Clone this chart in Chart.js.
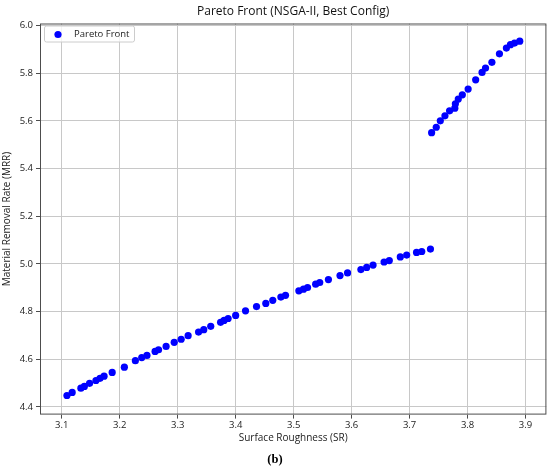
<!DOCTYPE html>
<html>
<head>
<meta charset="utf-8">
<script src="https://cdn.jsdelivr.net/npm/chart.js@4.4.1/dist/chart.umd.min.js"></script>
<style>
  html, body { margin: 0; padding: 0; background: #fff; }
  #wrap { width: 550px; height: 470px; }
</style>
</head>
<body>
<div id="wrap"><canvas id="chart" width="550" height="470"></canvas></div>
<script>
const seriesName = 'Pareto Front';

// Surface Roughness (x) and Material Removal Rate (y)
const sr = [
  3.109, 3.118, 3.133, 3.139, 3.148, 3.159, 3.166, 3.173, 3.187, 3.208,
  3.227, 3.238, 3.247, 3.261, 3.267, 3.280, 3.294, 3.306, 3.318, 3.336,
  3.345, 3.357, 3.374, 3.380, 3.387, 3.400, 3.417, 3.436, 3.452, 3.464,
  3.478, 3.486, 3.509, 3.517, 3.524, 3.538, 3.545, 3.560, 3.580, 3.593,
  3.616, 3.626, 3.637, 3.656, 3.665, 3.684, 3.695, 3.712, 3.721, 3.736,
  3.738, 3.746, 3.753, 3.761, 3.769, 3.778, 3.779, 3.784, 3.791, 3.801,
  3.814, 3.825, 3.831, 3.842, 3.855, 3.867, 3.874, 3.881, 3.890
];
const mrr = [
  4.448, 4.461, 4.479, 4.486, 4.499, 4.511, 4.520, 4.529, 4.545, 4.567,
  4.594, 4.607, 4.616, 4.633, 4.640, 4.654, 4.671, 4.684, 4.699, 4.714,
  4.724, 4.738, 4.755, 4.763, 4.771, 4.784, 4.803, 4.821, 4.834, 4.847,
  4.861, 4.868, 4.887, 4.894, 4.901, 4.915, 4.922, 4.934, 4.951, 4.962,
  4.976, 4.985, 4.995, 5.008, 5.014, 5.029, 5.037, 5.048, 5.052, 5.062,
  5.550, 5.573, 5.600, 5.621, 5.642, 5.653, 5.671, 5.691, 5.709, 5.733,
  5.772, 5.803, 5.821, 5.845, 5.881, 5.905, 5.919, 5.926, 5.934
];

const xTicks = [3.1, 3.2, 3.3, 3.4, 3.5, 3.6, 3.7, 3.8, 3.9];
const yTicks = [4.4, 4.6, 4.8, 5.0, 5.2, 5.4, 5.6, 5.8, 6.0];

const points = sr.map((x, i) => ({ x: x, y: mrr[i] }));

const FONT = '"Open Sans", "DejaVu Sans", sans-serif';

// matplotlib-style box around the axes and a legend inside the plot
const framePlugin = {
  id: 'frame',
  afterLayout(chart) {
    // centre the title over the plot area, like matplotlib does
    if (chart.titleBlock) {
      chart.titleBlock.left = chart.chartArea.left;
      chart.titleBlock.right = chart.chartArea.right;
    }
  },
  afterDraw(chart) {
    const { ctx, chartArea: a } = chart;
    ctx.save();
    ctx.strokeStyle = '#4d4d4d';
    ctx.lineWidth = 1;
    ctx.strokeRect(a.left + 0.5, a.top + 0.5, a.right - a.left - 1, a.bottom - a.top - 1);

    // legend
    const ds = chart.data.datasets[0];
    const x0 = a.left + 4.5, y0 = a.top + 2.5, w = 90, h = 16;
    ctx.fillStyle = 'rgba(255,255,255,0.8)';
    ctx.strokeStyle = '#cccccc';
    ctx.beginPath();
    ctx.roundRect(x0, y0, w, h, 2);
    ctx.fill();
    ctx.stroke();
    ctx.fillStyle = ds.backgroundColor;
    ctx.beginPath();
    ctx.arc(x0 + 13.5, y0 + 8.5, 3.6, 0, Math.PI * 2);
    ctx.fill();
    ctx.fillStyle = '#222';
    ctx.font = '9.5px ' + FONT;
    ctx.textBaseline = 'middle';
    ctx.textAlign = 'left';
    ctx.fillText(ds.label, x0 + 29.5, y0 + 8.5);
    ctx.restore();
  }
};

const ctx = document.getElementById('chart').getContext('2d');
new Chart(ctx, {
  type: 'scatter',
  data: {
    datasets: [{
      label: seriesName,
      data: points,
      backgroundColor: '#0000ff',
      borderWidth: 0,
      pointRadius: 3.6,
      pointHoverRadius: 3.6
    }]
  },
  options: {
    responsive: false,
    animation: false,
    layout: { padding: 0 },
    plugins: {
      legend: { display: false },
      tooltip: { enabled: false },
      title: {
        display: true,
        text: 'Pareto Front (NSGA-II, Best Config)',
        color: '#111',
        font: { family: FONT, size: 12, weight: 'normal' },
        padding: { top: 4.8, bottom: 4.3 }
      },
      subtitle: {
        display: true,
        position: 'bottom',
        text: '(b)',
        color: '#000',
        font: { family: '"Liberation Serif", "Times New Roman", serif', size: 12.5, weight: 'bold' },
        padding: { top: 4, bottom: 3.2 }
      }
    },
    scales: {
      x: {
        type: 'linear',
        min: 3.0625,
        max: 3.936,
        afterFit(scale) { scale.height = 33.2; },
        afterBuildTicks(scale) { scale.ticks = xTicks.map(v => ({ value: v })); },
        ticks: {
          autoSkip: false,
          maxRotation: 0,
          padding: 1,
          color: '#222',
          font: { family: FONT, size: 9.5 },
          callback: v => v.toFixed(1)
        },
        grid: { color: '#c8c8c8', lineWidth: 1, tickLength: 4, tickColor: '#4d4d4d' },
        border: { display: false },
        title: {
          display: true,
          text: 'Surface Roughness (SR)',
          color: '#222',
          font: { family: FONT, size: 10 },
          padding: { top: 0, bottom: 3.2 }
        }
      },
      y: {
        type: 'linear',
        min: 4.368,
        max: 6.008,
        afterFit(scale) { scale.width = 40; },
        afterBuildTicks(scale) { scale.ticks = yTicks.map(v => ({ value: v })); },
        ticks: {
          autoSkip: false,
          padding: 3,
          color: '#222',
          font: { family: FONT, size: 9.5 },
          callback: v => v.toFixed(1)
        },
        grid: { color: '#c8c8c8', lineWidth: 1, tickLength: 4, tickColor: '#4d4d4d' },
        border: { display: false },
        title: {
          display: true,
          text: 'Material Removal Rate (MRR)',
          color: '#222',
          font: { family: FONT, size: 10 },
          padding: { top: 1.5, bottom: 0 }
        }
      }
    }
  },
  plugins: [framePlugin]
});
</script>
</body>
</html>
